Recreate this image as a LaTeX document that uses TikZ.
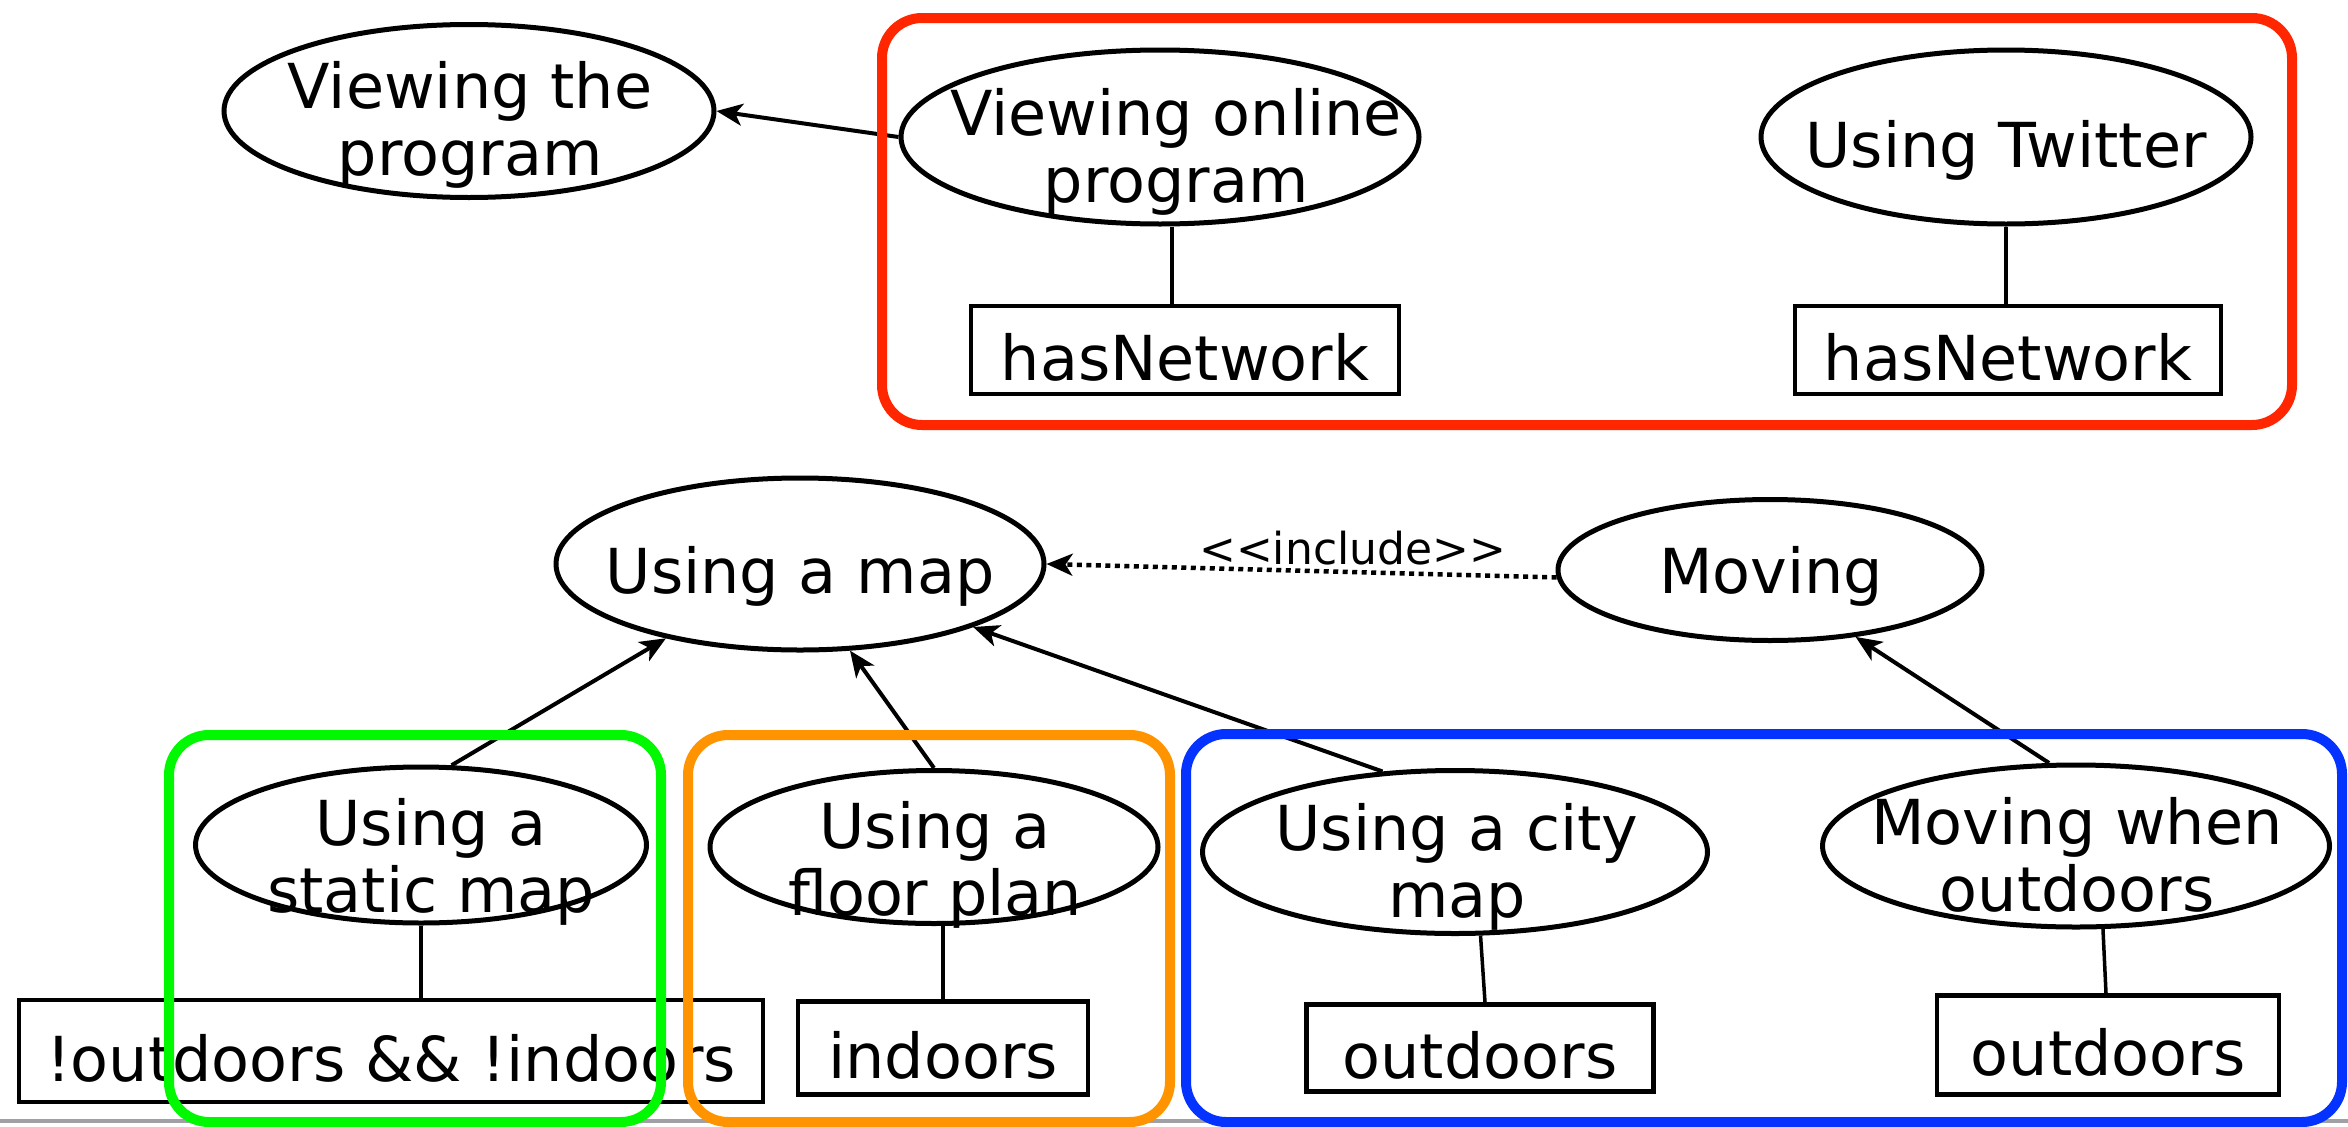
\documentclass[tikz,border=0pt]{standalone}
\usepackage{fontspec}
\setmainfont{DejaVu Sans}
\newfontfamily\stereofont{DejaVu Sans}
\usetikzlibrary{arrows.meta,calc,shapes.geometric}
\definecolor{grpred}{RGB}{255,38,0}
\definecolor{grpgreen}{RGB}{0,249,0}
\definecolor{grporange}{RGB}{255,147,0}
\definecolor{grpblue}{RGB}{4,51,255}
\definecolor{edgegray}{RGB}{160,160,166}
\begin{document}
\begin{tikzpicture}[x=1pt,y=-1pt,
  usecase/.style={ellipse,draw,line width=5pt,inner sep=0pt},
  lbl/.style={font=\fontsize{62}{67}\selectfont,align=center,inner sep=0pt,anchor=base},
  cond/.style={rectangle,draw,line width=4.5pt,inner sep=0pt,
    font=\fontsize{62}{67}\selectfont,text height=60pt,text depth=0pt},
  link/.style={line width=3.5pt},
  arr/.style={line width=4pt,-{Stealth[length=26pt,width=22pt,inset=7pt]}},
  incl/.style={line width=4.5pt,dash pattern=on 5pt off 4.5pt,
    -{Stealth[length=26pt,width=22pt,inset=7pt]}},
  frame/.style={line width=10pt,rounded corners=40pt}]
\useasboundingbox (0,0) rectangle (2348,1127);

% ---- upper group: programme viewing and Twitter
% (multi-line labels are placed by the baseline of their last line)
\node[usecase,minimum width=490pt,minimum height=173pt] (e1) at (469,111) {};
\node[lbl] (e1t) at (470,175) {Viewing the\\program};
\node[usecase,minimum width=518pt,minimum height=174pt] (e2) at (1160,137) {};
\node[lbl] (e2t) at (1176,202) {Viewing online\\program};
\node[usecase,minimum width=490pt,minimum height=174pt] (e3) at (2006,137) {};
\node[lbl] (e3t) at (2006,167) {Using Twitter};
\node[cond,minimum width=428pt,minimum height=88pt] (hn1) at (1185,350) {hasNetwork};
\node[cond,minimum width=426pt,minimum height=88pt] (hn2) at (2008,350) {hasNetwork};

\draw[arr] (e2.west) -- (e1.east);
\draw[link] ([xshift=12pt]e2.south) -- ([xshift=-13pt]hn1.north);
\draw[link] (e3.south) -- (e3.south |- hn2.north);

% ---- lower group: maps and moving
\node[usecase,minimum width=488pt,minimum height=172pt] (e4) at (800,564) {};
\node[lbl] (e4t) at (800,593) {Using a map};
\node[usecase,minimum width=424pt,minimum height=141pt] (e5) at (1770,570) {};
\node[lbl] (e5t) at (1771,593) {Moving};
\node[usecase,minimum width=451pt,minimum height=156pt] (e6) at (421,845) {};
\node[lbl] (e6t) at (431,912) {Using a\\static map};
\node[usecase,minimum width=448pt,minimum height=153pt] (e7) at (934,847) {};
\node[lbl] (e7t) at (935,915) {Using a\\floor plan};
\node[usecase,minimum width=505pt,minimum height=163pt] (e8) at (1455,852) {};
\node[lbl] (e8t) at (1457,917) {Using a city\\map};
\node[usecase,minimum width=507pt,minimum height=162pt] (e9) at (2076,846) {};
\node[lbl] (e9t) at (2077,911) {Moving when\\outdoors};

\node[cond,minimum width=744pt,minimum height=102pt] (c1) at (391,1051) {!outdoors \&\& !indoors};
\node[cond,minimum width=290pt,minimum height=93pt] (c2) at (943,1048) {indoors};
\node[cond,minimum width=347pt,minimum height=87pt] (c3) at (1480,1048) {outdoors};
\node[cond,minimum width=342pt,minimum height=99pt] (c4) at (2108,1045) {outdoors};

\draw[incl] (e5.182) -- node[pos=0.4,anchor=base,yshift=8pt,inner sep=0pt,
  font=\stereofont\fontsize{44}{48}\selectfont] (inc) {<<include>>} (e4.east);
\draw[arr] (e6.69) -- (e4.209);
\draw[arr] (e7.north) -- (e4.300);
\draw[arr] (e8.132) -- (e4.340);
\draw[arr] (e9.108) -- (e5.322);

\draw[link] (e6.south) -- (e6.south |- c1.north);
\draw[link] (e7.south -| c2.north) -- (c2.north);
\draw[link] (e8.287) -- ([xshift=5pt]c3.north);
\draw[link] (e9.288) -- ([xshift=-2pt]c4.north);

% ---- window edge along the bottom
\draw[edgegray,line width=4pt] (0,1121) -- (2348,1121);

% ---- coloured group frames
\draw[frame,grpred] (882,18) rectangle (2292,425);
\draw[frame,grpgreen] (169,735) rectangle (661,1122);
\draw[frame,grporange] (688,735) rectangle (1170,1122);
\draw[frame,grpblue] (1186,734) rectangle (2342,1122);
\end{tikzpicture}
\end{document}
